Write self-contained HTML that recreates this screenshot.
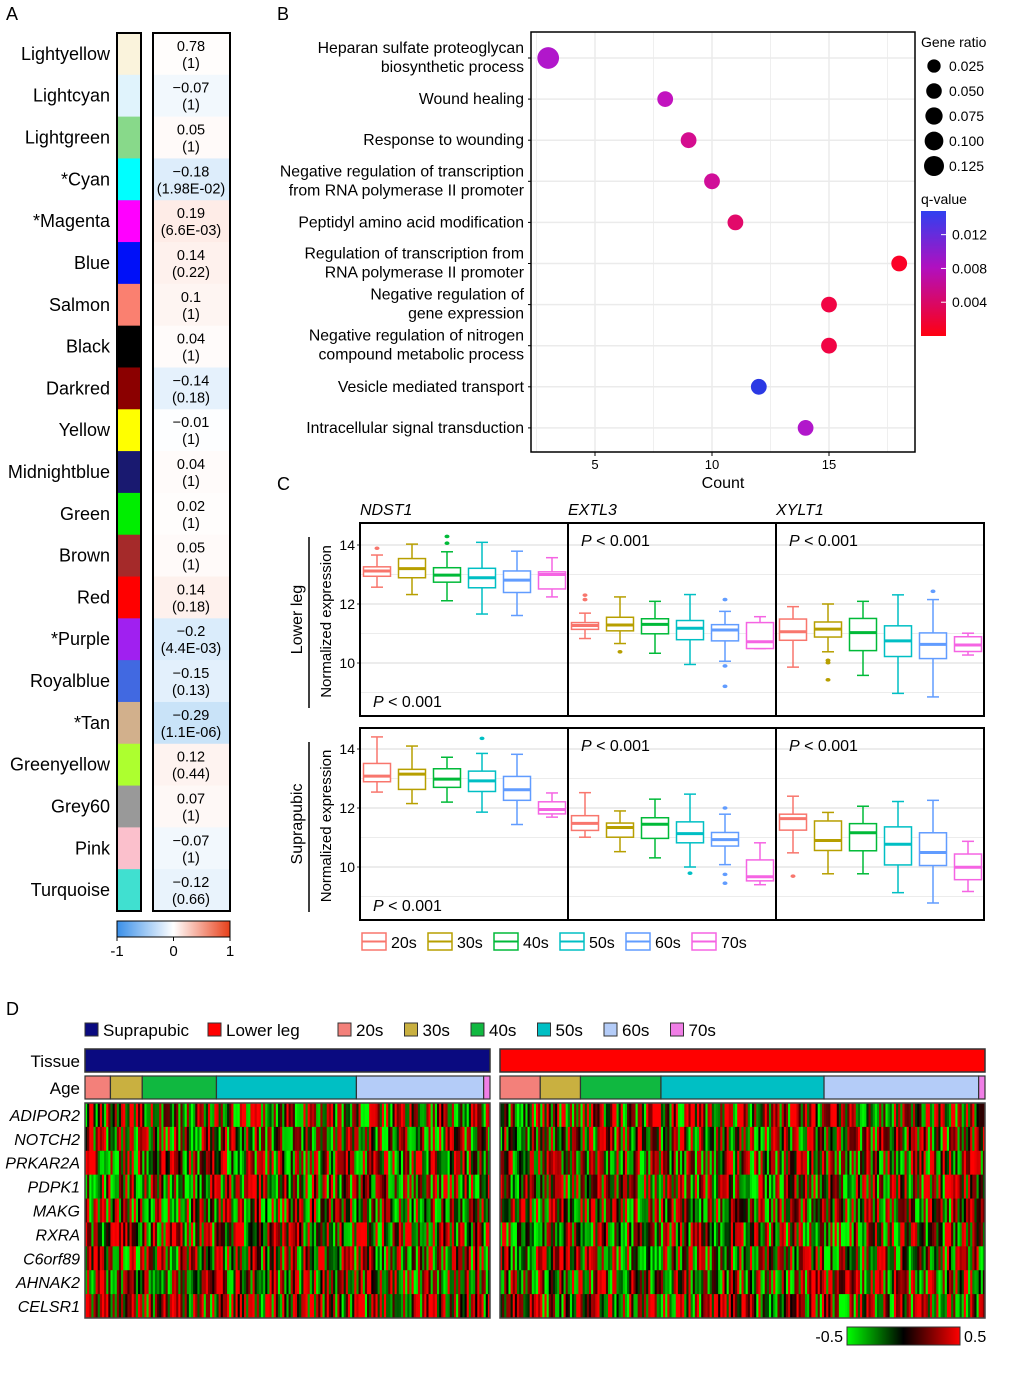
<!DOCTYPE html>
<html><head><meta charset="utf-8">
<style>
html,body{margin:0;padding:0;background:#fff;}
svg{display:block;font-family:"Liberation Sans",Arial,sans-serif;}
</style></head>
<body>
<svg id="fig" width="1020" height="1374" viewBox="0 0 1020 1374" xmlns="http://www.w3.org/2000/svg">
<g font-size="18" fill="#000">
<text x="6" y="20">A</text>
<text x="277" y="20">B</text>
<text x="277" y="490">C</text>
<text x="6" y="1015">D</text>
</g>
<g id="pa"></g>
<g id="pb"></g>
<g id="pc"></g>
<g id="pd"></g>
</svg>
<script>
const NS='http://www.w3.org/2000/svg';
function mk(tag,attrs,parent){const e=document.createElementNS(NS,tag);for(const k in attrs)e.setAttribute(k,attrs[k]);parent.appendChild(e);return e;}
function tx(str,attrs,parent){const e=mk('text',attrs,parent);e.textContent=str;return e;}

/* ---------------- Panel A data ---------------- */
const modNames=['Lightyellow','Lightcyan','Lightgreen','*Cyan','*Magenta','Blue','Salmon','Black','Darkred','Yellow','Midnightblue','Green','Brown','Red','*Purple','Royalblue','*Tan','Greenyellow','Grey60','Pink','Turquoise'];
const modColors=['#faf3dc','#e0f3fc','#88d98a','#00ffff','#ff00ff','#0010f8','#fa8070','#000000','#8b0000','#ffff00','#191970','#00ee00','#a52a2a','#ff0000','#a020f0','#4169e1','#d2b08c','#adff2f','#999999','#fbc0cc','#40e0d0'];
const modCorr=[0.78,-0.07,0.05,-0.18,0.19,0.14,0.1,0.04,-0.14,-0.01,0.04,0.02,0.05,0.14,-0.2,-0.15,-0.29,0.12,0.07,-0.07,-0.12];
const modP=['(1)','(1)','(1)','(1.98E-02)','(6.6E-03)','(0.22)','(1)','(1)','(0.18)','(1)','(1)','(1)','(1)','(0.18)','(4.4E-03)','(0.13)','(1.1E-06)','(0.44)','(1)','(1)','(0.66)'];
const modCorrLabels=['0.78','\u22120.07','0.05','\u22120.18','0.19','0.14','0.1','0.04','\u22120.14','\u22120.01','0.04','0.02','0.05','0.14','\u22120.2','\u22120.15','\u22120.29','0.12','0.07','\u22120.07','\u22120.12'];
const corrTicks=[-1,0,1];

/* ---------------- Panel B data ---------------- */
const goTerms=[['Heparan sulfate proteoglycan','biosynthetic process'],['Wound healing'],['Response to wounding'],['Negative regulation of transcription','from RNA polymerase II promoter'],['Peptidyl amino acid modification'],['Regulation of transcription from','RNA polymerase II promoter'],['Negative regulation of','gene expression'],['Negative regulation of nitrogen','compound metabolic process'],['Vesicle mediated transport'],['Intracellular signal transduction']];
const goCount=[3,8,9,10,11,18,15,15,12,14];
const goRatio=[0.14,0.04,0.04,0.04,0.04,0.04,0.04,0.04,0.04,0.04];
const goQ=[0.0095,0.0085,0.006,0.0065,0.004,0.0005,0.002,0.002,0.0145,0.0095];
const countTicks=[5,10,15];
const ratioLegend=[0.025,0.05,0.075,0.1,0.125];
const qTicks=[0.012,0.008,0.004];

/* ---------------- Panel C data ---------------- */
const genesC=['NDST1','EXTL3','XYLT1'];
const ageGroups=['20s','30s','40s','50s','60s','70s'];
const ageColors=['#F8766D','#B79F00','#00BA38','#00BFC4','#619CFF','#F564E3'];
const yTicksC=[10,12,14];
const lowNDST1=[[13.66,13.26,13.12,12.94,12.57],[14.03,13.54,13.2,12.89,12.32],[13.77,13.23,12.98,12.74,12.11],[14.09,13.21,12.89,12.55,11.66],[13.79,13.12,12.81,12.39,11.61],[13.57,13.09,13.0,12.51,12.24]];
const lowEXTL3=[[11.69,11.37,11.27,11.14,10.83],[12.24,11.55,11.29,11.09,10.66],[12.09,11.5,11.31,10.99,10.33],[12.32,11.44,11.18,10.79,9.95],[11.75,11.3,11.12,10.75,10.06],[11.57,11.37,10.72,10.49,10.49]];
const lowXYLT1=[[11.91,11.49,11.06,10.77,9.86],[12.0,11.39,11.15,10.88,10.38],[12.09,11.51,11.03,10.42,9.58],[12.31,11.26,10.75,10.22,8.97],[12.15,11.02,10.63,10.15,8.85],[11.01,10.89,10.61,10.39,10.27]];
const lowOut=[[[13.89],[],[14.29,14.06],[],[],[]],[[12.3,12.15],[10.38],[],[],[12.15,9.9,9.21],[]],[[],[10.09,10.01,9.43],[],[],[12.43],[]]];
const supNDST1=[[14.41,13.51,13.08,12.89,12.54],[14.1,13.31,13.15,12.63,12.15],[13.72,13.33,12.98,12.7,12.2],[13.85,13.25,12.92,12.56,11.86],[13.82,13.07,12.62,12.26,11.44],[12.51,12.21,11.95,11.8,11.69]];
const supEXTL3=[[12.52,11.74,11.48,11.24,11.01],[11.9,11.49,11.34,11.01,10.52],[12.3,11.67,11.45,10.97,10.31],[12.47,11.53,11.13,10.82,10.0],[11.79,11.17,10.93,10.71,10.08],[10.82,10.24,9.67,9.53,9.40]];
const supXYLT1=[[12.4,11.79,11.64,11.25,10.48],[11.85,11.56,10.9,10.56,9.77],[12.06,11.47,11.16,10.55,9.77],[12.22,11.36,10.77,10.07,9.13],[12.26,11.16,10.49,10.05,8.78],[10.87,10.44,9.99,9.57,9.17]];
const supOut=[[[],[],[],[14.36],[],[]],[[],[],[],[9.79],[12.0,9.75,9.45],[]],[[9.69],[],[],[],[],[]]];

/* ---------------- Panel D data ---------------- */
const heatGenes=['ADIPOR2','NOTCH2','PRKAR2A','PDPK1','MAKG','RXRA','C6orf89','AHNAK2','CELSR1'];
const leftAgeCounts=[12,15,35,66,60,3];
const rightAgeCounts=[19,19,38,77,73,3];
const leftRowBias=[0.05,0.0,0.05,0.0,0.0,0.08,0.05,0.12,0.1];
const rightRowBias=[0.05,0.06,0.03,0.04,0.05,0.02,0.0,0.05,0.05];
const heatTicks=[-0.5,0.5];

/* ================= Panel A ================= */
(function(){
const g=document.getElementById('pa');
const top=33,rowH=(911-33)/21;
modNames.forEach((n,i)=>{
  const y=top+rowH*i;
  const c=mk('rect',{x:117,y:y,width:24,height:rowH+0.5,fill:modColors[i]},g);
  
  
  const v=modCorr[i];const a=Math.abs(v)>0.5?0.03:Math.min(Math.abs(v),0.3)/0.3*0.45;
  const base=v>=0?[250,190,170]:[130,190,240];
  const col='rgb('+base.map(b=>Math.round(255-(255-b)*a)).join(',')+')';
  const vc=mk('rect',{x:153,y:y,width:77,height:rowH+0.5,fill:col},g);
  
  
  const l=tx(n,{x:110,y:y+rowH/2+6,'text-anchor':'end','font-size':18},g);
  
  
  const t1=tx(modCorrLabels[i],{x:191,y:y+rowH/2-3,'text-anchor':'middle','font-size':14.5},g);
  
  
  const t2=tx(modP[i],{x:191,y:y+rowH/2+14,'text-anchor':'middle','font-size':14.5},g);
  
  
});
const b1=mk('rect',{x:117,y:33,width:24,height:878,fill:'none',stroke:'#000','stroke-width':2},g);


const b2=mk('rect',{x:153,y:33,width:77,height:878,fill:'none',stroke:'#000','stroke-width':2},g);


const defs=mk('defs',{},g);
const lg=mk('linearGradient',{id:'corrGrad',x1:0,x2:1,y1:0,y2:0},defs);
mk('stop',{offset:'0','stop-color':'#3a8fe8'},lg);
mk('stop',{offset:'0.5','stop-color':'#ffffff'},lg);
mk('stop',{offset:'1','stop-color':'#e8401a'},lg);
const cb=mk('rect',{x:117,y:921,width:113,height:16,fill:'url(#corrGrad)',stroke:'#000','stroke-width':1},g);


const sx=v=>117+(v+1)/2*113;
corrTicks.forEach(v=>{
  const tk=mk('line',{x1:sx(v),x2:sx(v),y1:937,y2:941,stroke:'#000'},g);
  
  
  const t=tx(v<0?'-'+Math.abs(v):String(v),{x:sx(v),y:956,'text-anchor':'middle','font-size':15},g);
  
  
});
})();

/* ================= Panel B ================= */
(function(){
const g=document.getElementById('pb');
const L=531,R=915,T=32,B=452;
const xs=v=>595+(v-5)*23.4;
const ys=i=>58+i*41.1;
mk('rect',{x:L,y:T,width:R-L,height:B-T,fill:'#fff'},g);
for(let v=2.5;v<=18;v+=2.5){
  const gl=mk('line',{x1:xs(v),x2:xs(v),y1:T,y2:B,stroke:'#ebebeb','stroke-width':v%5===0?1.5:0.8},g);
  
  
}
goTerms.forEach((t,i)=>{
  const gl=mk('line',{x1:L,x2:R,y1:ys(i),y2:ys(i),stroke:'#ebebeb','stroke-width':1.5},g);
  
  
});
const fr=mk('rect',{x:L,y:T,width:R-L,height:B-T,fill:'none',stroke:'#000','stroke-width':1.5},g);


const qColor=q=>{const t=Math.max(0,Math.min(1,q/0.015));
  let r,gg,b;
  if(t<0.6){const u=t/0.6;r=255-(255-190)*u;gg=0+20*u;b=30+(200-30)*u;}
  else{const u=(t-0.6)/0.4;r=190-(190-30)*u;gg=20+40*u;b=200+(230-200)*u;}
  return 'rgb('+Math.round(r)+','+Math.round(gg)+','+Math.round(b)+')';};
const rs=r=>4.5+Math.sqrt(r/0.125)*6;
goTerms.forEach((t,i)=>{
  const y=ys(i);
  if(t.length===1){
    const l=tx(t[0],{x:524,y:y+5,'text-anchor':'end','font-size':15.8},g);
    
    
  }else{
    const l=tx(t[0],{x:524,y:y-5,'text-anchor':'end','font-size':15.8},g);
    
    
    const l2=tx(t[1],{x:524,y:y+14,'text-anchor':'end','font-size':15.8},g);
    
    
  }
  const tk=mk('line',{x1:L-3,x2:L,y1:y,y2:y,stroke:'#000'},g);
  
  
  const d=mk('circle',{cx:xs(goCount[i]),cy:y,r:rs(goRatio[i]),fill:qColor(goQ[i])},g);
  
  
});
countTicks.forEach(v=>{
  const tk=mk('line',{x1:xs(v),x2:xs(v),y1:B,y2:B+4,stroke:'#000'},g);
  
  
  const t=tx(String(v),{x:xs(v),y:B+17,'text-anchor':'middle','font-size':13},g);
  
  
});
const xt=tx('Count',{x:723,y:488,'text-anchor':'middle','font-size':16},g);


const lt=tx('Gene ratio',{x:921,y:47,'font-size':14},g);


ratioLegend.forEach((r,i)=>{
  const y=66+i*25;
  const c=mk('circle',{cx:934,cy:y,r:rs(r)-0.5,fill:'#000'},g);
  
  
  const t=tx(r.toFixed(3),{x:949,y:y+5,'font-size':14},g);
  
  
});
const qt=tx('q-value',{x:921,y:204,'font-size':14},g);


const defs=mk('defs',{},g);
const lg=mk('linearGradient',{id:'qGrad',x1:0,x2:0,y1:0,y2:1},defs);
mk('stop',{offset:'0','stop-color':'#3040f0'},lg);
mk('stop',{offset:'0.45','stop-color':'#b010c0'},lg);
mk('stop',{offset:'1','stop-color':'#ff0010'},lg);
const qb=mk('rect',{x:921,y:211,width:25,height:125,fill:'url(#qGrad)'},g);


const qy=q=>336-(q/0.0148)*125;
qTicks.forEach(q=>{
  const t=tx(q.toFixed(3),{x:952,y:qy(q)+5,'font-size':14},g);
  
  
  const tk=mk('line',{x1:941,x2:946,y1:qy(q),y2:qy(q),stroke:'#fff'},g);
  
  
});
})();

/* ================= Panel C ================= */
(function(){
const g=document.getElementById('pc');
const panelsX=[360,568,776],pw=208;
const rows=[{top:523,bot:716,y14:545,name:'Lower leg',data:[lowNDST1,lowEXTL3,lowXYLT1],out:lowOut},
            {top:728,bot:920,y14:749,name:'Suprapubic',data:[supNDST1,supEXTL3,supXYLT1],out:supOut}];
genesC.forEach((gn,j)=>{
  const t=tx(gn,{x:panelsX[j],y:515,'font-size':16,'font-style':'italic'},g);
  
  
});
rows.forEach((row,ri)=>{
  const ys=v=>row.y14+(14-v)*29.5;
  const cx=(row.top+row.bot)/2;
  const yt=tx('Normalized expression',{x:0,y:0,'text-anchor':'middle','font-size':15,transform:'translate(331,'+(cx+2)+') rotate(-90)'},g);
  
  
  const tl=tx(row.name,{x:0,y:0,'text-anchor':'middle','font-size':16,transform:'translate(302,'+cx+') rotate(-90)'},g);
  
  
  const vl=mk('line',{x1:309,x2:309,y1:row.top+14,y2:row.bot-8,stroke:'#000','stroke-width':1.5},g);
  
  
  yTicksC.forEach(v=>{
    const t=tx(String(v),{x:355,y:ys(v)+5,'text-anchor':'end','font-size':14},g);
    
    
    const tk=mk('line',{x1:357,x2:360,y1:ys(v),y2:ys(v),stroke:'#333'},g);
    
    
  });
  row.data.forEach((gd,j)=>{
    const px=panelsX[j];
    [9,10,11,12,13,14].forEach(v=>{
      const gl=mk('line',{x1:px,x2:px+pw,y1:ys(v),y2:ys(v),stroke:'#e6e6e6','stroke-width':v%2===0?1.4:0.8},g);
      
      
    });
    gd.forEach((s,k)=>{
      const c=px+17+35*k,w=27,col=ageColors[k];
      const bg=mk('g',{},g);
      
      
      mk('line',{x1:c,x2:c,y1:ys(s[0]),y2:ys(s[1]),stroke:col,'stroke-width':1.5},bg);
      mk('line',{x1:c,x2:c,y1:ys(s[3]),y2:ys(s[4]),stroke:col,'stroke-width':1.5},bg);
      mk('line',{x1:c-6,x2:c+6,y1:ys(s[0]),y2:ys(s[0]),stroke:col,'stroke-width':1.5},bg);
      mk('line',{x1:c-6,x2:c+6,y1:ys(s[4]),y2:ys(s[4]),stroke:col,'stroke-width':1.5},bg);
      mk('rect',{x:c-w/2,y:ys(s[1]),width:w,height:Math.max(1,ys(s[3])-ys(s[1])),fill:'#fff',stroke:col,'stroke-width':1.5},bg);
      mk('line',{x1:c-w/2,x2:c+w/2,y1:ys(s[2]),y2:ys(s[2]),stroke:col,'stroke-width':3},bg);
      row.out[j][k].forEach(o=>{mk('ellipse',{cx:c,cy:ys(o),rx:2.5,ry:1.8,fill:col},bg);});
    });
    const fr=mk('rect',{x:px,y:row.top,width:pw,height:row.bot-row.top,fill:'none',stroke:'#000','stroke-width':2},g);
    
    
    const py=j===0?row.bot-9:row.top+23;
    const pt=mk('text',{x:px+13,y:py,'font-size':16},g);
    
    
    const ps=mk('tspan',{'font-style':'italic'},pt);ps.textContent='P';
    const ps2=mk('tspan',{},pt);ps2.textContent=' < 0.001';
  });
});
ageGroups.forEach((a,k)=>{
  const x=362+66*k;
  const lg=mk('g',{},g);
  
  
  mk('rect',{x:x,y:933,width:24,height:17,fill:'#fff',stroke:ageColors[k],'stroke-width':1.5},lg);
  mk('line',{x1:x,x2:x+24,y1:941.5,y2:941.5,stroke:ageColors[k],'stroke-width':2},lg);
  tx(a,{x:x+29,y:948,'font-size':16},lg);
});
})();

/* ================= Panel D ================= */
(function(){
const g=document.getElementById('pd');
const ageBarColors=['#f3807a','#c9b040','#10b840','#00bfc4','#b4ccf8','#f07ee6'];
const legend=[['Suprapubic','#0a0a80',85],['Lower leg','#ff0000',208]];
ageGroups.forEach((a,k)=>legend.push([a,ageBarColors[k],338+66.5*k]));
legend.forEach(l=>{
  const lg=mk('g',{},g);
  
  
  mk('rect',{x:l[2],y:1023,width:13,height:13,fill:l[1],stroke:'#333','stroke-width':1},lg);
  tx(l[0],{x:l[2]+18,y:1036,'font-size':17},lg);
});
const t1=tx('Tissue',{x:80,y:1067,'text-anchor':'end','font-size':17},g);


const t2=tx('Age',{x:80,y:1094,'text-anchor':'end','font-size':17},g);


const blocks=[{x0:85,x1:490,counts:leftAgeCounts,tissue:'#0a0a80',bias:leftRowBias,name:'suprapubic'},
              {x0:500,x1:985,counts:rightAgeCounts,tissue:'#ff0000',bias:rightRowBias,name:'lower-leg'}];
const hTop=1103,hBot=1318,rh=(hBot-hTop)/heatGenes.length;
function texture(b,r,c){let h=(b*7919+r*104729+c*1299709)>>>0;h^=h<<13;h>>>=0;h^=h>>>17;h^=h<<5;h>>>=0;return (h%1000)/1000;}
const colorOf=v=>{const t=Math.max(-1,Math.min(1,v/0.5));return t>=0?'rgb('+Math.round(255*Math.pow(t,0.8))+',0,0)':'rgb(0,'+Math.round(255*Math.pow(-t,0.8))+',0)';};
blocks.forEach((b,bi)=>{
  const W=b.x1-b.x0;
  const tb=mk('rect',{x:b.x0,y:1049,width:W,height:23,fill:b.tissue,stroke:'#333','stroke-width':1.5},g);
  
  
  const n=b.counts.reduce((a,c)=>a+c,0);const cw=W/n;
  let cum=0;
  b.counts.forEach((c,k)=>{
    const ab=mk('rect',{x:b.x0+cum*cw,y:1076,width:c*cw,height:23,fill:ageBarColors[k],stroke:'#333','stroke-width':1.2},g);
    
    
    cum+=c;
  });
  const hg=mk('g',{},g);
  
  
  heatGenes.forEach((gn,r)=>{
    for(let c=0;c<n;c++){
      const v=(texture(bi,r,c)-0.5)*1.25+b.bias[r];
      mk('rect',{x:(b.x0+c*cw).toFixed(2),y:(hTop+r*rh).toFixed(2),width:(cw+0.4).toFixed(2),height:(rh+0.4).toFixed(2),fill:colorOf(v)},hg);
    }
  });
  const fr=mk('rect',{x:b.x0,y:hTop,width:W,height:hBot-hTop,fill:'none',stroke:'#444','stroke-width':1.5},g);
  
  
});
heatGenes.forEach((gn,r)=>{
  const t=tx(gn,{x:80,y:hTop+rh*r+rh/2+6,'text-anchor':'end','font-size':16,'font-style':'italic'},g);
  
  
});
const defs=mk('defs',{},g);
const lg=mk('linearGradient',{id:'hGrad',x1:0,x2:1,y1:0,y2:0},defs);
mk('stop',{offset:'0','stop-color':'#00ff00'},lg);
mk('stop',{offset:'0.5','stop-color':'#000000'},lg);
mk('stop',{offset:'1','stop-color':'#ff0000'},lg);
const hb=mk('rect',{x:847,y:1327,width:113,height:18,fill:'url(#hGrad)',stroke:'#333'},g);


heatTicks.forEach(v=>{
  const t=tx(String(v),{x:v<0?843:964,y:1342,'text-anchor':v<0?'end':'start','font-size':16},g);
  
  
});
})();
</script>
</body></html>
